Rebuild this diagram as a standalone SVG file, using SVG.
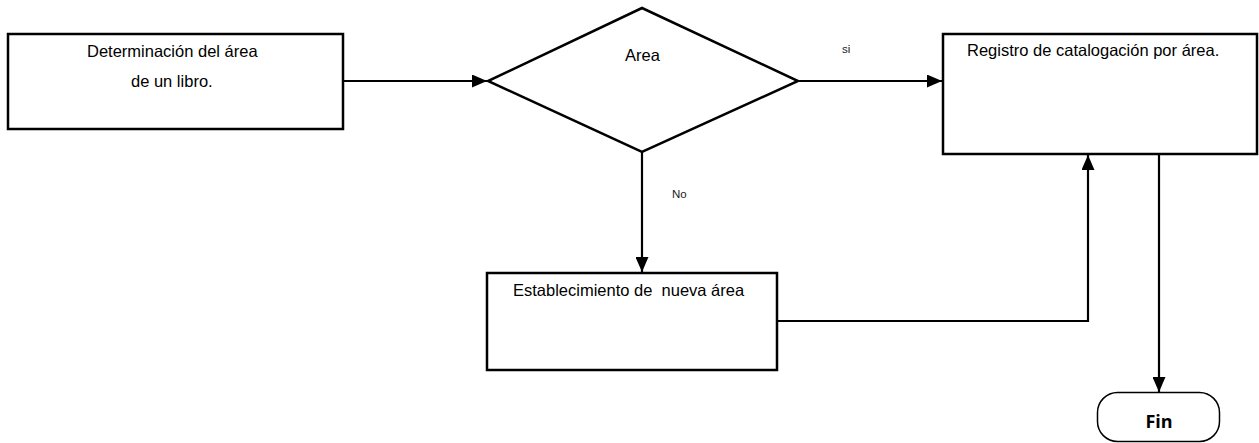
<svg xmlns="http://www.w3.org/2000/svg" width="1259" height="443" viewBox="0 0 1259 443">
  <style>
    .box { fill: #ffffff; stroke: #000000; stroke-width: 2.5; }
    .term { fill: #ffffff; stroke: #000000; stroke-width: 1.5; }
    .lbl { font-family: "Liberation Sans", Arial, sans-serif; font-size: 16.5px; fill: #000000; }
    .small { font-family: "Liberation Sans", Arial, sans-serif; font-size: 11.5px; fill: #222222; }
    .fin { font-family: "Open Sans", "DejaVu Sans", sans-serif; font-size: 18px; font-weight: bold; fill: #000000; }
    .conn { fill: none; stroke: #000000; stroke-width: 2.2; }
  </style>
  <defs>
    <marker id="arrow" markerUnits="userSpaceOnUse" markerWidth="15" markerHeight="13" refX="15" refY="6.5" orient="auto">
      <path d="M0,0 L15,6.5 L0,13 Z" fill="#000000"/>
    </marker>
  </defs>
  <rect width="1259" height="443" fill="#ffffff"/>

  <g id="connectors">
    <path class="conn" d="M343,81 H487" marker-end="url(#arrow)"/>
    <path class="conn" d="M798,81 H942" marker-end="url(#arrow)"/>
    <path class="conn" d="M642,152 V272" marker-end="url(#arrow)"/>
    <path class="conn" d="M777,321 H1088 V155" marker-end="url(#arrow)"/>
    <path class="conn" d="M1159,154 V392" marker-end="url(#arrow)"/>
    <text class="small" x="842" y="53" font-size="11">si</text>
    <text class="small" x="672" y="198">No</text>
  </g>

  <g id="determinacion">
    <rect class="box" x="8" y="34" width="335" height="95"/>
    <text class="lbl" x="87" y="57">Determinación del área</text>
    <text class="lbl" x="131" y="87">de un libro.</text>
  </g>

  <g id="area">
    <polygon class="box" points="642,8 798,81 642,152 488,81"/>
    <text class="lbl" x="625" y="61">Area</text>
  </g>

  <g id="registro">
    <rect class="box" x="943" y="34" width="314" height="120"/>
    <text class="lbl" x="967" y="56">Registro de catalogación por área.</text>
  </g>

  <g id="establecimiento">
    <rect class="box" x="487" y="273" width="290" height="97"/>
    <text class="lbl" x="513" y="296" xml:space="preserve">Establecimiento de  nueva área</text>
  </g>

  <g id="fin">
    <rect class="term" x="1097.5" y="392.5" width="122" height="49" rx="20" ry="20"/>
    <text class="fin" x="1159" y="428" text-anchor="middle">Fin</text>
  </g>
</svg>
